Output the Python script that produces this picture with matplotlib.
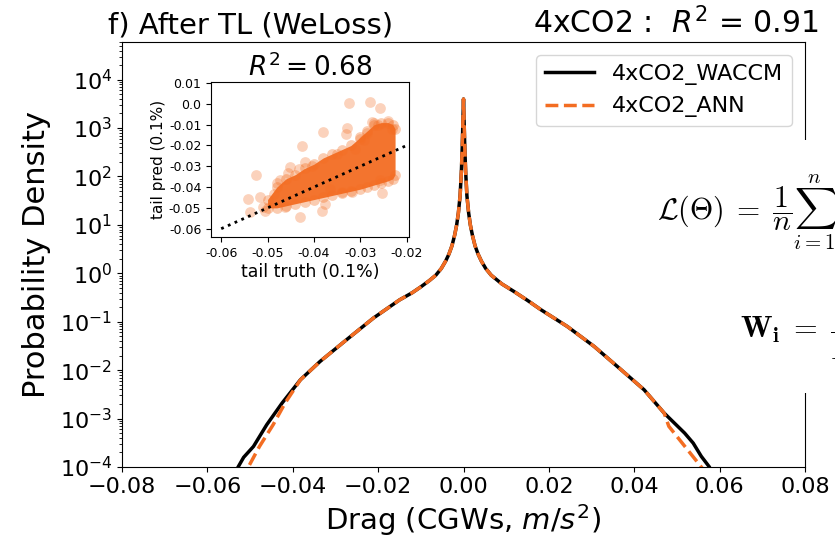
import matplotlib
matplotlib.use("Agg")
import matplotlib.pyplot as plt
from matplotlib.patches import Rectangle
import numpy as np

# PDF of CGW drag (x in m/s^2, log10 of density)
waccm_x = [-0.0545, -0.0528, -0.0515, -0.0492, -0.0461, -0.0425, -0.0382, -0.0336,
           -0.0274, -0.0211, -0.0150, -0.0120, -0.0100, -0.0080, -0.0065, -0.0052,
           -0.0042, -0.0034, -0.0027, -0.0021, -0.0016, -0.0012, -0.0008, -0.0005,
           -0.0003, -0.00015, 0.0,
           0.00015, 0.0003, 0.0005, 0.0008, 0.0012, 0.0016, 0.0021, 0.0027,
           0.0034, 0.0042, 0.0052, 0.0065, 0.0090, 0.0118, 0.0150, 0.0181,
           0.0243, 0.0306, 0.0369, 0.0423, 0.0470, 0.0518, 0.0538, 0.0557,
           0.0576, 0.0590]
waccm_logpdf = [-4.3, -4.0, -3.8, -3.576, -3.128, -2.68, -2.198, -1.82,
                -1.372, -0.924, -0.55, -0.40, -0.28, -0.15, -0.04, 0.10,
                0.25, 0.40, 0.57, 0.78, 1.0, 1.25, 1.6, 2.1,
                2.6, 3.1, 3.6,
                3.1, 2.6, 2.1, 1.6, 1.25, 1.0, 0.78, 0.57,
                0.40, 0.25, 0.10, -0.04, -0.22, -0.374, -0.56, -0.75,
                -1.097, -1.51, -1.99, -2.405, -2.886, -3.30, -3.506, -3.78,
                -4.0, -4.3]

ann_x = [-0.0520, -0.0504, -0.0478, -0.0446, -0.0418, -0.0382, -0.0336,
         -0.0274, -0.0211, -0.0150, -0.0120, -0.0100, -0.0080, -0.0065, -0.0052,
         -0.0042, -0.0034, -0.0027, -0.0021, -0.0016, -0.0012, -0.0008, -0.0005,
         -0.0003, -0.00015, 0.0,
         0.00015, 0.0003, 0.0005, 0.0008, 0.0012, 0.0016, 0.0021, 0.0027,
         0.0034, 0.0042, 0.0052, 0.0065, 0.0090, 0.0118, 0.0150, 0.0181,
         0.0243, 0.0306, 0.0369, 0.0423, 0.0470, 0.0481, 0.0557, 0.0575]
ann_logpdf = [-4.3, -4.0, -3.576, -3.128, -2.68, -2.2, -1.82,
              -1.372, -0.924, -0.55, -0.40, -0.28, -0.15, -0.04, 0.10,
              0.25, 0.40, 0.57, 0.78, 1.0, 1.25, 1.6, 2.1,
              2.6, 3.1, 3.6,
              3.1, 2.6, 2.1, 1.6, 1.25, 1.0, 0.78, 0.57,
              0.40, 0.25, 0.10, -0.04, -0.22, -0.374, -0.56, -0.75,
              -1.097, -1.51, -1.99, -2.405, -2.886, -3.16, -4.0, -4.2]

# inset: 0.1% tail, truth vs prediction
band_x = [-0.0500, -0.0480, -0.0460, -0.0440, -0.0420, -0.0400, -0.0380, -0.0360,
          -0.0340, -0.0320, -0.0300, -0.0285, -0.0270, -0.0255, -0.0240, -0.0230, -0.0225]
band_lo = [-0.0500, -0.0500, -0.0490, -0.0480, -0.0470, -0.0460, -0.0450, -0.0440,
           -0.0430, -0.0420, -0.0410, -0.0400, -0.0390, -0.0380, -0.0370, -0.0360, -0.0340]
band_hi = [-0.0460, -0.0400, -0.0360, -0.0340, -0.0310, -0.0290, -0.0260, -0.0240,
           -0.0220, -0.0200, -0.0160, -0.0130, -0.0100, -0.0090, -0.0090, -0.0100, -0.0120]
tail_truth = [-0.0324, -0.0279, -0.0257, -0.0275, -0.0329, -0.0331, -0.0381, -0.0426,
              -0.0525, -0.0543, -0.0516, -0.0537, -0.0505, -0.0462, -0.0430, -0.0376,
              -0.0383, -0.0254, -0.0257, -0.0311, -0.0293, -0.0340, -0.0318, -0.0365,
              -0.0451, -0.0433, -0.0473, -0.0487, -0.0509, -0.0480, -0.0455, -0.0405,
              -0.0350, -0.0300, -0.0262, -0.0240, -0.0232, -0.0270, -0.0285, -0.0420]
tail_pred = [0.0006, 0.0009, -0.0020, -0.0087, -0.0114, -0.0146, -0.0135, -0.0204,
             -0.0340, -0.0455, -0.0447, -0.0522, -0.0514, -0.0494, -0.0542, -0.0479,
             -0.0515, -0.0430, -0.0367, -0.0215, -0.0175, -0.0423, -0.0423, -0.0407,
             -0.0303, -0.0311, -0.0367, -0.0431, -0.0494, -0.0380, -0.0330, -0.0300,
             -0.0240, -0.0170, -0.0100, -0.0080, -0.0120, -0.0090, -0.0140, -0.0280]
inset_xticks = [-0.06, -0.05, -0.04, -0.03, -0.02]
inset_xticklabels = ["-0.06", "-0.05", "-0.04", "-0.03", "-0.02"]
inset_yticks = [0.01, 0.0, -0.01, -0.02, -0.03, -0.04, -0.05, -0.06]
inset_yticklabels = ["0.01", "0.0", "-0.01", "-0.02", "-0.03", "-0.04", "-0.05", "-0.06"]

orange = "#f36d22"

fig = plt.figure(figsize=(8.35, 5.41), dpi=100)
ax = fig.add_axes([0.1461, 0.1368, 0.8180, 0.7856])

ax.plot(waccm_x, 10 ** np.array(waccm_logpdf), color="black", lw=2.5, label="4xCO2_WACCM")
ax.plot(ann_x, 10 ** np.array(ann_logpdf), color=orange, lw=2.5, ls="--", label="4xCO2_ANN")
ax.set_yscale("log")
ax.set_ylim(1e-4, 6e4)
ax.set_xlim(-0.08, 0.08)
ax.set_xticks([-0.08, -0.06, -0.04, -0.02, 0.0, 0.02, 0.04, 0.06, 0.08])
ax.tick_params(labelsize=16)
ax.set_xlabel("Drag (CGWs, $m/s^2$)", fontsize=21)
ax.set_ylabel("Probability Density", fontsize=22, labelpad=6)
ax.set_title("f) After TL (WeLoss)", loc="left", fontsize=21, x=-0.02)
ax.set_title("4xCO2 :  $R^2$ = 0.91", loc="right", fontsize=21.5, x=1.02)
ax.legend(loc="upper right", fontsize=16, borderaxespad=0.6, handlelength=2.2)

# inset scatter
ins = fig.add_axes([0.2527, 0.5619, 0.2371, 0.2865])
ins.fill_between(band_x, band_lo, band_hi, color=orange, alpha=0.95, lw=0, zorder=1)
ins.scatter(band_x, band_hi, s=60, color=orange, alpha=0.35, lw=0, zorder=2)
ins.scatter(band_x, band_lo, s=60, color=orange, alpha=0.35, lw=0, zorder=2)
ins.scatter(tail_truth, tail_pred, s=60, color=orange, alpha=0.3, lw=0, zorder=2)
ins.plot([-0.06, -0.02], [-0.06, -0.02], color="black", ls=":", lw=2, zorder=3)
ins.set_xlim(-0.0622, -0.0195)
ins.set_ylim(-0.064, 0.0105)
ins.set_xticks(inset_xticks)
ins.set_xticklabels(inset_xticklabels)
ins.set_yticks(inset_yticks)
ins.set_yticklabels(inset_yticklabels)
ins.tick_params(labelsize=9)
ins.set_xlabel("tail truth (0.1%)", fontsize=12.5, labelpad=2)
ins.set_ylabel("tail pred (0.1%)", fontsize=11, labelpad=2)
ins.set_title("$R^2 = 0.68$", fontsize=19, pad=3)

# slide overlay on the right (clipped by the figure edge, as in the original)
fig.patches.append(Rectangle((700 / 835, 1 - 393 / 541), 135 / 835, 253 / 541,
                             transform=fig.transFigure, facecolor="white",
                             edgecolor="none", zorder=5))
fig.text(657 / 835, 1 - 212 / 541, r"$\mathcal{L}(\Theta)\;=\;\dfrac{1}{n}\sum_{i=1}^{n}$",
         fontsize=21.5, math_fontfamily="cm", va="center", ha="left", zorder=6)
fig.text(740 / 835, 1 - 337 / 541, r"$\mathbf{W_i}\;=\;\dfrac{1}{P(x_i)}$",
         fontsize=22, math_fontfamily="cm", va="center", ha="left", zorder=6)

fig.savefig("out.png", dpi=100)
